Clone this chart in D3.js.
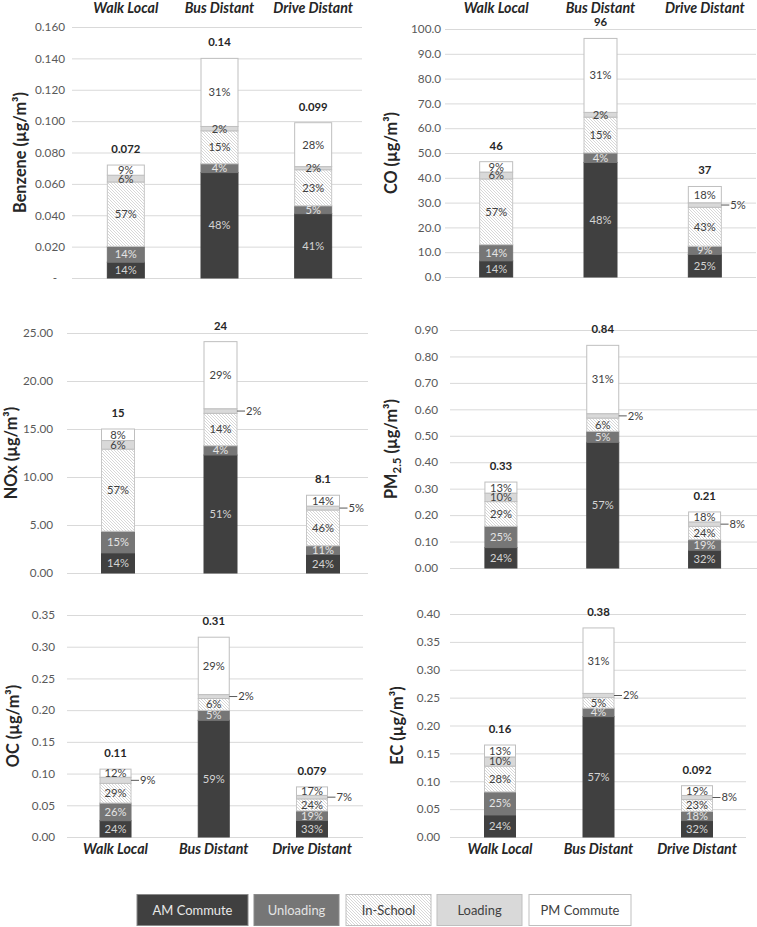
<!DOCTYPE html>
<html><head><meta charset="utf-8">
<script src="https://cdn.jsdelivr.net/npm/d3@7"></script>
<style>
body{margin:0;background:#fff;}
svg{display:block;font-family:Lato,"Open Sans",sans-serif;}
</style></head>
<body><svg id="chart" width="757" height="927"></svg>
<script>
// ---------- DATA ----------
const categories = ["Walk Local", "Bus Distant", "Drive Distant"];
const segmentNames = ["AM Commute", "Unloading", "In-School", "Loading", "PM Commute"];

const benzeneTotals = [0.072, 0.140, 0.099];
const benzeneTotalLabels = ["0.072", "0.14", "0.099"];
const benzenePct = [[14, 14, 57, 6, 9], [48, 4, 15, 2, 31], [41, 5, 23, 2, 28]];
const benzeneTicks = [0, 0.02, 0.04, 0.06, 0.08, 0.10, 0.12, 0.14, 0.16];

const coTotals = [46.5, 96.2, 36.5];
const coTotalLabels = ["46", "96", "37"];
const coPct = [[14, 14, 57, 6, 9], [48, 4, 15, 2, 31], [25, 9, 43, 5, 18]];
const coTicks = [0, 10, 20, 30, 40, 50, 60, 70, 80, 90, 100];

const noxTotals = [15.0, 24.1, 8.1];
const noxTotalLabels = ["15", "24", "8.1"];
const noxPct = [[14, 15, 57, 6, 8], [51, 4, 14, 2, 29], [24, 11, 46, 5, 14]];
const noxTicks = [0, 5, 10, 15, 20, 25];

const pm25Totals = [0.325, 0.842, 0.212];
const pm25TotalLabels = ["0.33", "0.84", "0.21"];
const pm25Pct = [[24, 25, 29, 10, 13], [57, 5, 6, 2, 31], [32, 19, 24, 8, 18]];
const pm25Ticks = [0, 0.1, 0.2, 0.3, 0.4, 0.5, 0.6, 0.7, 0.8, 0.9];

const ocTotals = [0.107, 0.315, 0.079];
const ocTotalLabels = ["0.11", "0.31", "0.079"];
const ocPct = [[24, 26, 29, 9, 12], [59, 5, 6, 2, 29], [33, 19, 24, 7, 17]];
const ocTicks = [0, 0.05, 0.10, 0.15, 0.20, 0.25, 0.30, 0.35];

const ecTotals = [0.165, 0.375, 0.092];
const ecTotalLabels = ["0.16", "0.38", "0.092"];
const ecPct = [[24, 25, 28, 10, 13], [57, 4, 5, 2, 31], [32, 18, 23, 8, 19]];
const ecTicks = [0, 0.05, 0.10, 0.15, 0.20, 0.25, 0.30, 0.35, 0.40];

// categories whose "Loading" label sits outside with a leader line
const benzeneCallouts = [];
const coCallouts = ["Drive Distant"];
const noxCallouts = ["Bus Distant", "Drive Distant"];
const pm25Callouts = ["Bus Distant", "Drive Distant"];
const ocCallouts = ["Walk Local", "Bus Distant", "Drive Distant"];
const ecCallouts = ["Bus Distant", "Drive Distant"];

// ---------- STYLE / LAYOUT ----------
const fills = ["#404040", "#767676", "url(#hatch)", "#d9d9d9", "#ffffff"];
const strokes = ["#404040", "#767676", "#c8c8c8", "#bfbfbf", "#bfbfbf"];
const pctColors = ["#d4d4d4", "#e4e4e4", "#404040", "#404040", "#404040"];

const svg = d3.select("#chart");

// fit font sizes to the widths measured on the reference
function fitSize(sample, targetW, weight, style) {
  const t = svg.append("text").style("font-size", "100px")
    .style("font-weight", weight || "normal").style("font-style", style || "normal").text(sample);
  const w = t.node().getComputedTextLength();
  t.remove();
  return 100 * targetW / w;
}
const fsTick = fitSize("0.160", 30);
const fsPct = fitSize("57%", 22);
const fsTotal = fitSize("0.072", 29, "bold");
const fsHdr = fitSize("Walk Local", 65, "bold", "italic");
const fsTitle = fitSize("Benzene (µg/m³)", 121, "bold");
const fsLegend = fitSize("AM Commute", 80);

const panels = [
  {title: "Benzene (µg/m³)", totals: benzeneTotals, labels: benzeneTotalLabels, pct: benzenePct, ticks: benzeneTicks, callouts: benzeneCallouts,
   fmt: v => v === 0 ? "-" : d3.format(".3f")(v), gridL: 72, gridR: 362, y0: 278, y1: 27, xr: [79, 360], barW: 37, labelR: 65, titleX: 20, header: "top"},
  {title: "CO (µg/m³)", totals: coTotals, labels: coTotalLabels, pct: coPct, ticks: coTicks, callouts: coCallouts,
   fmt: d3.format(".1f"), gridL: 445, gridR: 756, y0: 277, y1: 29, xr: [444, 757], barW: 33, labelR: 441, titleX: 391, header: "top"},
  {title: "NOx (µg/m³)", totals: noxTotals, labels: noxTotalLabels, pct: noxPct, ticks: noxTicks, callouts: noxCallouts,
   fmt: d3.format(".2f"), gridL: 67, gridR: 368, y0: 573, y1: 333, xr: [66.75, 374.25], barW: 33, labelR: 53, titleX: 11, header: null},
  {title: "PM2.5", totals: pm25Totals, labels: pm25TotalLabels, pct: pm25Pct, ticks: pm25Ticks, callouts: pm25Callouts,
   fmt: d3.format(".2f"), gridL: 450, gridR: 757, y0: 568, y1: 330, xr: [450, 755.5], barW: 32, labelR: 438, titleX: 391, header: null},
  {title: "OC (µg/m³)", totals: ocTotals, labels: ocTotalLabels, pct: ocPct, ticks: ocTicks, callouts: ocCallouts,
   fmt: d3.format(".2f"), gridL: 67, gridR: 363, y0: 837, y1: 615, xr: [66.4, 361.1], barW: 31, labelR: 55, titleX: 13, header: "bottom"},
  {title: "EC (µg/m³)", totals: ecTotals, labels: ecTotalLabels, pct: ecPct, ticks: ecTicks, callouts: ecCallouts,
   fmt: d3.format(".2f"), gridL: 450, gridR: 746, y0: 837, y1: 614, xr: [450.75, 746.25], barW: 31, labelR: 440, titleX: 397, header: "bottom"}
];

const defs = svg.append("defs");
const pat = defs.append("pattern").attr("id", "hatch").attr("patternUnits", "userSpaceOnUse")
  .attr("width", 3).attr("height", 3);
pat.append("rect").attr("width", 3).attr("height", 3).attr("fill", "#fff");
pat.append("path").attr("d", "M-1,-1 L4,4 M-1,2 L1,4 M2,-1 L4,1")
  .attr("stroke", "#bcbcbc").attr("stroke-width", 0.6);

panels.forEach(p => {
  const g = svg.append("g");
  const y = d3.scaleLinear().domain([0, p.ticks[p.ticks.length - 1]]).range([p.y0, p.y1]);
  const x = d3.scaleBand().domain(categories).range(p.xr).paddingInner(0).paddingOuter(0);

  const ax = g.append("g").attr("transform", `translate(${p.gridL},0)`)
    .call(d3.axisLeft(y).tickValues(p.ticks).tickFormat(p.fmt)
      .tickSizeInner(-(p.gridR - p.gridL)).tickSizeOuter(0).tickPadding(p.gridL - p.labelR));
  ax.select(".domain").remove();
  ax.selectAll(".tick line").attr("stroke", "#d9d9d9").attr("stroke-width", 1);
  ax.selectAll(".tick text").attr("fill", "#595959").style("font-size", fsTick + "px").style("font-family", "Lato, sans-serif");
  if (p.title.startsWith("Benzene")) {
    ax.selectAll(".tick text").filter(d => d === 0).attr("dx", -8);
  }

  const t = g.append("text").attr("transform", `translate(${p.titleX},${(p.y0 + p.y1) / 2}) rotate(-90)`)
    .attr("text-anchor", "middle").attr("dy", "0.35em")
    .attr("fill", "#262626").style("font-size", fsTitle + "px").style("font-weight", "bold");
  if (p.title === "PM2.5") {
    t.append("tspan").text("PM");
    t.append("tspan").text("2.5").style("font-size", (fsTitle * 0.7) + "px").attr("dy", 4);
    t.append("tspan").text(" (µg/m³)").attr("dy", -4);
  } else {
    t.text(p.title);
  }

  if (p.header) {
    const hy = p.header === "top" ? 8 : 849;
    g.selectAll(".hdr").data(categories).join("text")
      .attr("x", d => x(d) + x.bandwidth() / 2).attr("y", hy).attr("dy", "0.35em")
      .attr("text-anchor", "middle").attr("fill", "#262626")
      .style("font-size", fsHdr + "px").style("font-weight", "bold").style("font-style", "italic")
      .text(d => d);
  }

  categories.forEach((c, ci) => {
    const pcts = p.pct[ci];
    const sum = d3.sum(pcts);
    let base = 0;
    const segs = pcts.map((v, si) => {
      const val = p.totals[ci] * v / sum;
      const s = {si, pct: v, lo: base, hi: base + val};
      base += val;
      return s;
    });
    const cx = x(c) + x.bandwidth() / 2;
    const bx = cx - p.barW / 2;
    const bg = g.append("g");
    bg.selectAll("rect").data(segs).join("rect")
      .attr("x", bx).attr("width", p.barW)
      .attr("y", d => y(d.hi)).attr("height", d => y(d.lo) - y(d.hi))
      .attr("fill", d => fills[d.si]).attr("stroke", d => strokes[d.si]).attr("stroke-width", 1);

    segs.forEach(d => {
      const my = (y(d.lo) + y(d.hi)) / 2;
      const outside = d.si === 3 && p.callouts.includes(c);
      if (outside) {
        bg.append("line").attr("x1", bx + p.barW).attr("x2", bx + p.barW + 8)
          .attr("y1", my).attr("y2", my).attr("stroke", "#595959").attr("stroke-width", 1);
        bg.append("text").attr("x", bx + p.barW + 9).attr("y", my).attr("dy", "0.35em")
          .attr("fill", "#404040").style("font-size", fsPct + "px").text(d.pct + "%");
      } else {
        bg.append("text").attr("x", cx).attr("y", my).attr("dy", "0.35em")
          .attr("text-anchor", "middle").attr("fill", pctColors[d.si])
          .style("font-size", fsPct + "px").text(d.pct + "%");
      }
    });

    bg.append("text").attr("x", cx).attr("y", y(p.totals[ci]) - 12)
      .attr("text-anchor", "middle").attr("fill", "#262626")
      .style("font-size", fsTotal + "px").style("font-weight", "bold").text(p.labels[ci]);
  });
});

// legend
const legendX = [137, 254, 346, 437, 529];
const legendW = [111, 85, 85, 85, 102];
const legendText = ["#e8e8e8", "#e4e4e4", "#404040", "#404040", "#404040"];
const lg = svg.append("g");
segmentNames.forEach((n, i) => {
  lg.append("rect").attr("x", legendX[i]).attr("y", 894.5).attr("width", legendW[i]).attr("height", 31)
    .attr("fill", fills[i]).attr("stroke", i < 2 ? "#8a8a8a" : "#bfbfbf").attr("stroke-width", 1);
  lg.append("text").attr("x", legendX[i] + legendW[i] / 2).attr("y", 910).attr("dy", "0.35em")
    .attr("text-anchor", "middle").attr("fill", legendText[i]).style("font-size", fsLegend + "px").text(n);
});
</script></body></html>
